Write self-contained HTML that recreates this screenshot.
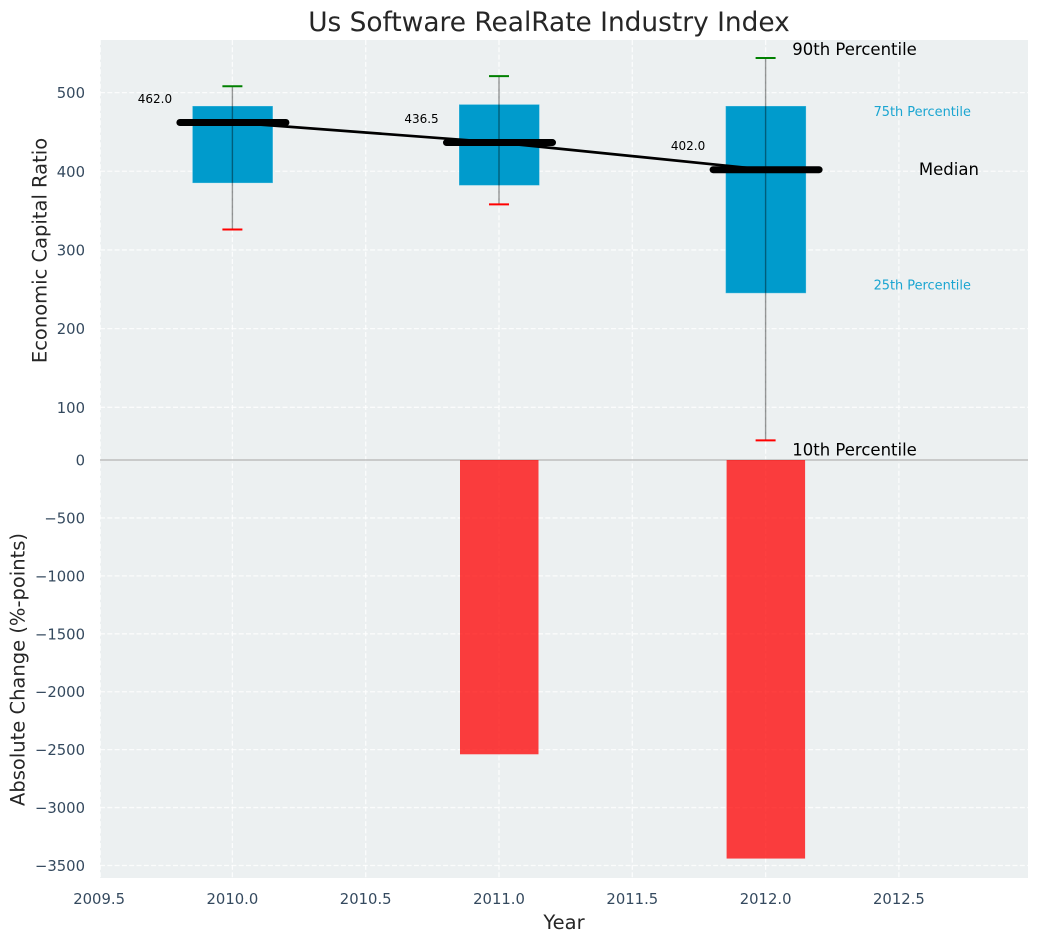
<!DOCTYPE html>
<html lang="en">
<head>
<meta charset="utf-8">
<title>Us Software RealRate Industry Index</title>
<style>
html,body{margin:0;padding:0;background:#fff;}
svg{display:block;font-family:"DejaVu Sans","Liberation Sans",sans-serif;}
.tick{font-size:14.8px;fill:#34495e;}
.axis-title{font-size:19.5px;fill:#262626;}
</style>
</head>
<body>
<svg id="chart" xmlns="http://www.w3.org/2000/svg" width="1039" height="942" viewBox="0 0 1039 942">
  <rect x="100" y="40" width="928" height="420" fill="#ecf0f1"></rect>
  <rect x="100" y="460" width="928" height="418" fill="#ecf0f1"></rect>
  <g id="grid"></g>
  <g id="bars"></g>
  <g id="boxes"></g>
  <g id="labels"></g>
  <g id="ticks"></g>
  <text x="549" y="31" text-anchor="middle" font-size="26.4" fill="#262626">Us Software RealRate Industry Index</text>
  <text class="axis-title" x="564" y="929" text-anchor="middle">Year</text>
  <text class="axis-title" transform="translate(46.5,250.5) rotate(-90)" text-anchor="middle">Economic Capital Ratio</text>
  <text class="axis-title" transform="translate(24.5,669.5) rotate(-90)" text-anchor="middle">Absolute Change (%-points)</text>
</svg>
<script>
const years = [2010, 2011, 2012];
const p10 = [326, 358, 58];
const p25 = [385, 382, 245];
const medians = [462.0, 436.5, 402.0];
const p75 = [483, 485, 483];
const p90 = [508, 521, 544];
const changes = [0, -2540, -3440];
const xTicks = [2009.5, 2010, 2010.5, 2011, 2011.5, 2012, 2012.5];
const upperTicks = [100, 200, 300, 400, 500];
const lowerTicks = [0, -500, -1000, -1500, -2000, -2500, -3000, -3500];

const NS = 'http://www.w3.org/2000/svg';
const xPos = v => 232.4 + (v - 2010) * 266.6;
const yUp = v => 92.6 + (500 - v) * 0.7868;
const yLow = v => 460 - v * 0.11586;
const gridG = document.getElementById('grid');
const barG = document.getElementById('bars');
const boxG = document.getElementById('boxes');
const labelG = document.getElementById('labels');
const tickG = document.getElementById('ticks');

function make(tag, parent, attrs) {
  const el = document.createElementNS(NS, tag);
  Object.keys(attrs).forEach(k => el.setAttribute(k, attrs[k]));
  parent.appendChild(el);
  return el;
}
function segment(parent, x1, y1, x2, y2, stroke, width) {
  return make('line', parent, {x1: x1, y1: y1, x2: x2, y2: y2, stroke: stroke, 'stroke-width': width});
}
function label(parent, x, y, str, size, fill, anchor) {
  const t = make('text', parent, {x: x, y: y, 'font-size': size, fill: fill, 'text-anchor': anchor, 'dominant-baseline': 'central'});
  t.textContent = str;
  return t;
}
const fmtTick = v => (v < 0 ? '\u2212' + Math.abs(v) : String(v));

xTicks.forEach(v => {
  const gx = Math.max(xPos(v), 100.3);
  const g = segment(gridG, gx, 40, gx, 878, '#ffffff', 1.3);
  g.setAttribute('stroke-dasharray', '5 2.3');
  g.setAttribute('stroke-opacity', '0.8');
  
  
  const t = make('text', tickG, {x: xPos(v), y: 904, 'text-anchor': 'middle', class: 'tick'});
  t.textContent = v.toFixed(1);
  
  
});
upperTicks.forEach(v => {
  const g = segment(gridG, 100, yUp(v), 1028, yUp(v), '#ffffff', 1.3);
  g.setAttribute('stroke-dasharray', '5 2.3');
  g.setAttribute('stroke-opacity', '0.8');
  
  
  const t = make('text', tickG, {x: 85, y: yUp(v) + 5.5, 'text-anchor': 'end', class: 'tick'});
  t.textContent = fmtTick(v);
  
  
});
lowerTicks.forEach(v => {
  if (v !== 0) {
    const g = segment(gridG, 100, yLow(v), 1028, yLow(v), '#ffffff', 1.3);
    g.setAttribute('stroke-dasharray', '5 2.3');
    g.setAttribute('stroke-opacity', '0.8');
    
    
  }
  const t = make('text', tickG, {x: 85, y: yLow(v) + 5.5, 'text-anchor': 'end', class: 'tick'});
  t.textContent = fmtTick(v);
  
  
});

const boundary = segment(gridG, 100, 460, 1028, 460, '#bdbdbd', 1.4);



years.forEach((yr, i) => {
  if (changes[i] === 0) return;
  const top = yLow(Math.max(changes[i], 0));
  const bar = make('rect', barG, {x: xPos(yr) - 39, y: top, width: 78.5, height: yLow(Math.min(changes[i], 0)) - top, fill: '#ff0000', 'fill-opacity': 0.75});
  
  
});

years.forEach((yr, i) => {
  const cx = xPos(yr);
  const box = make('rect', boxG, {x: cx - 40, y: yUp(p75[i]), width: 80.5, height: yUp(p25[i]) - yUp(p75[i]), fill: '#009bcc', stroke: '#ffffff', 'stroke-opacity': 0.3, 'stroke-width': 1});
  
  
});

const trend = make('polyline', boxG, {points: years.map((yr, i) => xPos(yr) + ',' + yUp(medians[i])).join(' '), fill: 'none', stroke: '#000000', 'stroke-width': 2.7});



years.forEach((yr, i) => {
  const cx = xPos(yr);
  const whisker = segment(boxG, cx, yUp(p90[i]), cx, yUp(p10[i]), '#000000', 1.4);
  whisker.setAttribute('stroke-opacity', '0.4');
  
  

  const capHigh = segment(boxG, cx - 10, yUp(p90[i]), cx + 10, yUp(p90[i]), '#008000', 2);
  
  

  const capLow = segment(boxG, cx - 10, yUp(p10[i]), cx + 10, yUp(p10[i]), '#ff0000', 2);
  
  

  const med = segment(boxG, cx - 52.5, yUp(medians[i]), cx + 53.5, yUp(medians[i]), '#000000', 7);
  med.setAttribute('stroke-linecap', 'round');
  
  

  const val = label(labelG, cx - 77.5, yUp(medians[i] + 30), medians[i].toFixed(1), 12, '#000000', 'middle');
  
  
});

const last = years.length - 1;
const lastX = years[last];
const l90 = label(labelG, xPos(lastX + 0.1), yUp(p90[last] + 10.5), '90th Percentile', 16.5, '#000000', 'start');


const l75 = label(labelG, xPos(lastX + 0.405), yUp(p75[last] - 8), '75th Percentile', 12.9, '#1aa5d1', 'start');


const lMed = label(labelG, xPos(lastX + 0.575), yUp(medians[last]), 'Median', 16.5, '#000000', 'start');


const l25 = label(labelG, xPos(lastX + 0.405), yUp(p25[last] + 9), '25th Percentile', 12.9, '#1aa5d1', 'start');


const l10 = label(labelG, xPos(lastX + 0.1), yUp(p10[last] - 12.5), '10th Percentile', 16.5, '#000000', 'start');


</script>
</body>
</html>
